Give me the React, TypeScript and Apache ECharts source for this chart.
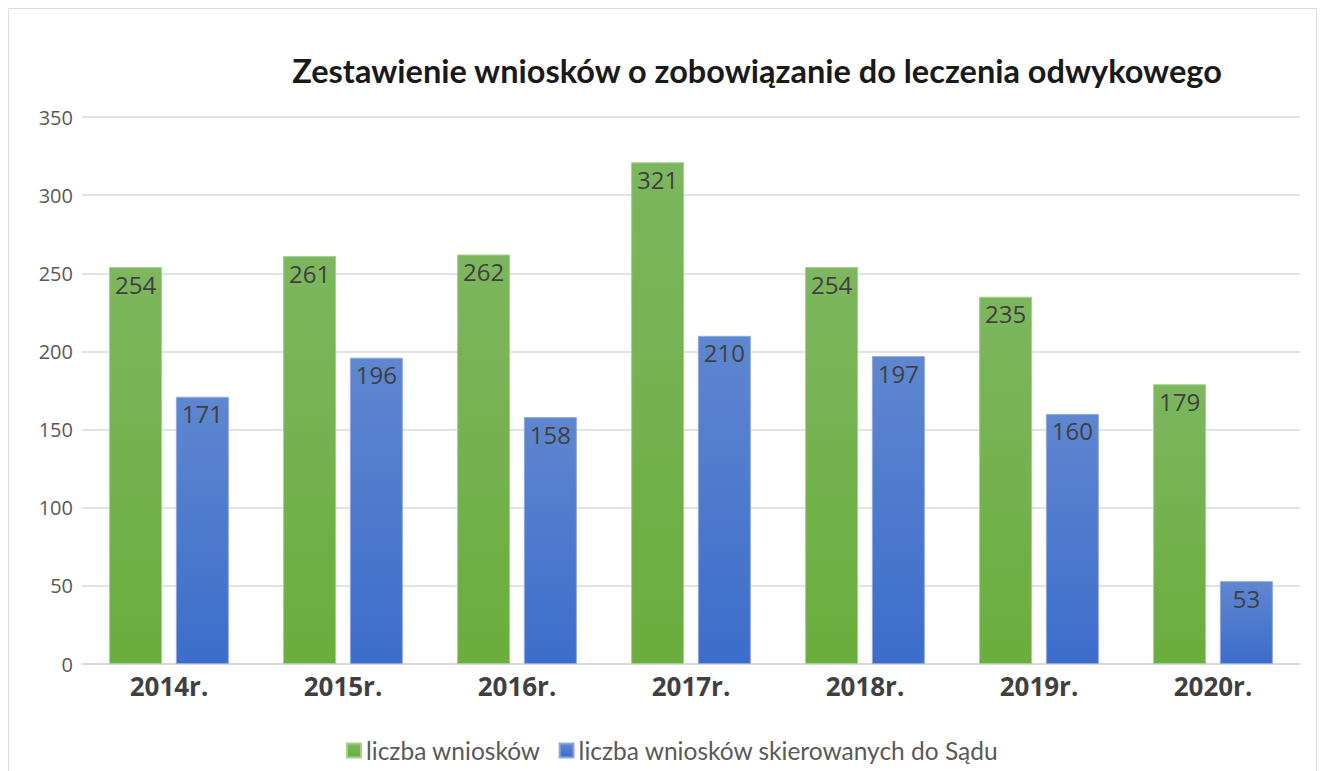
import React, { useEffect, useRef } from "react";
import * as echarts from "echarts";

const categories = ["2014r.", "2015r.", "2016r.", "2017r.", "2018r.", "2019r.", "2020r."];
const wnioski = [254, 261, 262, 321, 254, 235, 179];
const skierowane = [171, 196, 158, 210, 197, 160, 53];
const seriesNames = ["liczba wniosków", "liczba wniosków skierowanych do Sądu"];
const titleText = "Zestawienie wniosków o zobowiązanie do leczenia odwykowego";

export default function App() {
  const ref = useRef<HTMLDivElement>(null);
  useEffect(() => {
    const chart = echarts.init(ref.current!, null, { renderer: "svg" });
    const green = new echarts.graphic.LinearGradient(0, 0, 0, 1, [
      { offset: 0, color: "#7db65e" },
      { offset: 1, color: "#6aae3d" },
    ]);
    const blue = new echarts.graphic.LinearGradient(0, 0, 0, 1, [
      { offset: 0, color: "#5f87d0" },
      { offset: 1, color: "#3c6dcb" },
    ]);
    const label = {
      show: true,
      position: "insideTop" as const,
      distance: 5,
      color: "#404040",
      fontSize: 24,
      fontFamily: "Open Sans",
    };
    chart.setOption({
      animation: false,
      backgroundColor: "#fff",
      title: {
        text: titleText,
        left: 744,
        textAlign: "center",
        top: 41,
        textStyle: { fontFamily: "Lato", fontWeight: "bold", fontSize: 32.5, color: "#1a1a1a" },
      },
      grid: { left: 74, right: 17, top: 109, bottom: 107 },
      legend: {
        bottom: 3,
        left: 333,
        itemWidth: 14,
        itemHeight: 14,
        itemGap: 18,
        icon: "rect",
        textStyle: { fontFamily: "Lato", fontSize: 24.5, color: "#595959" },
        data: seriesNames,
      },
      xAxis: {
        type: "category",
        data: categories,
        axisLine: { lineStyle: { color: "#d9d9d9", width: 2 } },
        axisTick: { show: false },
        axisLabel: { color: "#404040", fontSize: 26, fontWeight: "bold", fontFamily: "Open Sans", margin: 9 },
      },
      yAxis: {
        type: "value",
        min: 0,
        max: 350,
        interval: 50,
        axisLine: { show: false },
        axisTick: { show: false },
        splitLine: { lineStyle: { color: "#e3e3e3", width: 2 } },
        axisLabel: { color: "#595959", fontSize: 20, fontFamily: "Open Sans", margin: 9 },
      },
      graphic: [
        {
          type: "rect",
          shape: { x: 0.5, y: 0.5, width: 1308, height: 800 },
          style: { fill: "none", stroke: "#dcdcdc", lineWidth: 1 },
          silent: true,
        },
      ],
      series: [
        {
          name: seriesNames[0],
          type: "bar",
          data: wnioski,
          barWidth: 53,
          barGap: "26%",
          itemStyle: { color: green, borderColor: "#a5d08c", borderWidth: 1 },
          label,
        },
        {
          name: seriesNames[1],
          type: "bar",
          data: skierowane,
          barWidth: 53,
          itemStyle: { color: blue, borderColor: "#8fa9de", borderWidth: 1 },
          label,
        },
      ],
    });
    return () => chart.dispose();
  }, []);
  return <div ref={ref} style={{ width: 1309, height: 763 }} />;
}
